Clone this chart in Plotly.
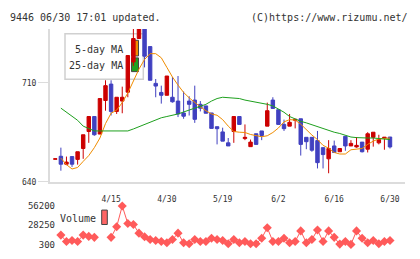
import plotly.graph_objects as go

W, H = 420, 259

opens  = [656.0,658.1,652.5,657.9,655.9,663.6,675.6,686.2,673.8,697.5,
          709.1,689.8,697.1,703.4,724.7,741.3,751.0,735.6,709.6,703.2,
          701.2,699.8,697.1,688.7,697.1,697.8,694.8,693.7,688.7,679.0,
          675.3,667.6,675.6,686.2,670.6,664.9,674.0,676.0,679.4,697.8,
          691.0,680.6,679.4,683.5,684.6,671.5,671.5,669.2,664.2,656.3,
          665.4,661.3,672.2,665.4,664.7,668.1,663.1,671.5,667.6,671.0,
          671.7]
highs  = [656.3,664.2,657.9,657.9,661.3,673.3,686.2,686.2,698.9,711.8,
          711.8,699.8,707.3,729.3,748.1,752.0,753.0,735.6,712.7,708.0,
          714.8,714.1,714.8,703.9,700.5,708.0,697.1,693.7,688.7,679.0,
          678.3,671.0,686.2,686.2,680.6,669.9,674.0,676.0,696.0,699.8,
          691.0,684.0,688.0,684.2,684.6,671.5,671.5,676.0,664.2,669.5,
          669.2,663.6,672.2,669.5,671.7,668.1,675.1,675.1,673.3,671.5,
          671.7]
lows   = [656.0,647.9,651.8,650.6,652.2,656.3,667.6,672.6,673.8,690.3,
          686.9,688.0,688.5,699.8,722.0,741.3,720.9,711.8,699.8,695.3,
          701.2,696.0,685.8,684.6,686.9,681.7,689.8,688.5,677.8,666.5,
          668.8,665.4,667.6,680.6,669.5,664.9,666.5,669.5,679.4,691.9,
          680.6,676.0,679.4,677.8,658.6,663.1,661.3,649.5,649.5,646.1,
          660.8,661.3,662.0,665.4,664.2,660.8,660.8,664.9,666.5,662.7,
          663.6]
closes = [656.3,652.5,654.0,652.5,661.3,673.3,686.2,673.3,698.9,708.0,
          689.8,699.8,699.8,729.3,741.3,751.0,728.8,711.8,707.7,701.2,
          714.8,696.6,688.0,686.4,694.8,684.2,692.1,688.5,677.8,677.6,
          668.8,665.4,686.2,680.6,671.5,668.1,666.5,672.8,690.3,691.9,
          680.6,677.6,682.1,684.2,666.5,668.4,662.4,653.6,659.3,663.6,
          660.8,663.6,665.4,667.2,665.8,661.3,674.0,675.1,669.9,671.5,
          664.7]
ma5  = [None,656.8,652.2,649.1,650.2,654.5,658.6,664.2,671.0,681.2,
        688.5,690.7,696.0,702.8,711.1,719.7,726.5,730.6,730.6,727.7,
        720.9,714.1,708.4,703.2,699.4,696.0,693.0,690.3,688.0,687.1,
        684.0,679.4,675.6,675.1,674.9,673.5,672.8,671.9,672.6,674.9,
        678.1,682.4,684.0,683.7,680.8,676.7,673.1,669.9,665.8,663.8,
        660.8,659.7,659.7,662.7,663.3,663.6,666.5,668.8,670.4,670.6,
        671.0]
ma25 = [None,692.1,689.2,685.8,683.5,679.4,677.8,676.0,676.0,676.0,
        675.6,675.6,675.8,676.0,677.4,679.0,680.8,682.4,683.7,685.3,
        686.2,686.9,688.0,689.4,690.7,691.9,693.2,694.8,697.1,698.9,
        699.8,699.4,698.9,698.9,697.8,697.1,696.6,695.7,694.8,693.7,
        691.4,689.2,686.2,684.4,682.8,681.7,680.3,679.0,677.4,676.2,
        675.1,674.2,672.8,671.7,671.3,671.0,671.0,671.0,670.8,670.4,
        669.9]
volume = [None,13800,4500,5900,4500,13800,11900,10500,None,None,
          10500,25900,56200,30600,29200,16600,11500,7300,5900,4500,
          2600,7300,16600,2600,1200,7300,4500,4500,9200,7300,
          5900,1200,7300,2600,4500,1200,1200,9200,24500,4500,
          4500,9200,2600,4500,19900,2600,7300,21300,4500,19900,
          10500,700,4500,300,19900,9200,2600,5900,1200,4500,
          5900]
date_pos    = [10, 20, 30, 40, 50, 60]
date_labels = ["4/15", "4/30", "5/19", "6/2", "6/16", "6/30"]
price_ticks = [640, 710]
vol_ticks   = [300, 28250, 56200]
vol_labels  = ["300", "28250", "56200"]

days = list(range(len(closes)))

RED, BLUE = "#cc0000", "#4040c0"
ORANGE, GREEN = "#f08c00", "#1ea01e"
VOLC = "#ff5a5a"
AX = "#dcdcdc"
MONO = "DejaVu Sans Mono"

def px(x): return x / W
def py(y): return 1 - y / H

x0, x1 = -0.95, 62.69
fig = go.Figure()
fig.add_trace(go.Candlestick(
    x=days, open=opens, high=highs, low=lows, close=closes,
    increasing=dict(line=dict(color=RED, width=1), fillcolor=RED),
    decreasing=dict(line=dict(color=BLUE, width=1), fillcolor=BLUE),
    whiskerwidth=0, showlegend=False, hoverinfo="skip"))
fig.add_trace(go.Scatter(x=days, y=ma5, mode="lines",
                         line=dict(color=ORANGE, width=1), showlegend=False))
fig.add_trace(go.Scatter(x=days, y=ma25, mode="lines",
                         line=dict(color=GREEN, width=1), showlegend=False))
fig.add_trace(go.Scatter(x=days, y=volume, mode="lines+markers",
                         xaxis="x4", yaxis="y4", cliponaxis=False,
                         line=dict(color=VOLC, width=1),
                         marker=dict(symbol="diamond", size=7, color=VOLC),
                         showlegend=False))

vol_left = 56
vx0 = x0 + (vol_left - 50) / (355 / (x1 - x0))

fig.update_layout(
    width=W, height=H, margin=dict(l=0, r=0, t=0, b=0),
    paper_bgcolor="white", plot_bgcolor="white",
    font=dict(family=MONO, size=8, color="#333"),
    boxgap=0.12,
    xaxis=dict(domain=[px(50), px(405)], range=[x0, x1], anchor="y",
               rangeslider=dict(visible=False), showgrid=False, zeroline=False,
               showline=True, linecolor=AX, linewidth=2,
               tickmode="array", tickvals=date_pos, ticktext=date_labels,
               ticks="outside", ticklen=9, tickcolor="rgba(0,0,0,0)",
               tickfont=dict(family=MONO, size=8, color="#333")),
    xaxis2=dict(overlaying="x", domain=[px(50), px(405)], range=[0, 11],
                anchor="y", tickmode="linear", tick0=0, dtick=1,
                ticks="outside", ticklen=4, tickwidth=2, tickcolor=AX,
                showticklabels=False, showgrid=False, zeroline=False, showline=False),
    xaxis3=dict(overlaying="x", domain=[px(50), px(405)], range=[0, 11],
                anchor="y", tickmode="linear", tick0=0, dtick=1,
                ticks="inside", ticklen=3, tickwidth=2, tickcolor=AX,
                showticklabels=False, showgrid=False, zeroline=False, showline=False),
    yaxis=dict(domain=[py(184), py(25)], range=[640, 748], showgrid=False,
               zeroline=False, showline=True, linecolor=AX, linewidth=2,
               tickmode="array", tickvals=price_ticks, ticks="outside",
               ticklen=10, tickcolor=AX, tickwidth=1,
               tickfont=dict(family=MONO, size=8, color="#333")),
    xaxis4=dict(domain=[px(vol_left), px(405)], range=[vx0, x1], anchor="y4",
                visible=False),
    yaxis4=dict(domain=[py(249), py(209)], range=[300, 56200], anchor="x4",
                showgrid=False, zeroline=False, showline=False,
                tickmode="array", tickvals=vol_ticks, ticktext=vol_labels, ticks="",
                tickfont=dict(family=MONO, size=9, color="#333")),
)

shapes = [
    dict(type="rect", xref="paper", yref="paper", x0=px(65), x1=px(143.3),
         y0=py(77.3), y1=py(30), line=dict(color="#d0d0d0", width=1.5),
         fillcolor="white", layer="below"),
    dict(type="rect", xref="paper", yref="paper", x0=px(131.5), x1=px(138.5),
         y0=py(53), y1=py(36.7), line=dict(color="#444", width=1),
         fillcolor=ORANGE, layer="below"),
    dict(type="rect", xref="paper", yref="paper", x0=px(131.5), x1=px(138.5),
         y0=py(69.3), y1=py(55), line=dict(color="#444", width=1),
         fillcolor=GREEN, layer="below"),
    dict(type="rect", xref="paper", yref="paper", x0=px(101.7), x1=px(107.3),
         y0=py(228.3), y1=py(213.3), line=dict(color="#444", width=1),
         fillcolor="#ff6666"),
]
fig.update_layout(shapes=shapes)

ann = [
    dict(text="9446 06/30 17:01 updated.", x=px(8), y=py(12.5), xanchor="left"),
    dict(text="(C)https://www.rizumu.net/", x=px(410), y=py(12.5), xanchor="right"),
    dict(text="5-day MA", x=px(124.5), y=py(46.7), xanchor="right"),
    dict(text="25-day MA", x=px(124.5), y=py(63.3), xanchor="right"),
    dict(text="Volume", x=px(58), y=py(222), xanchor="left"),
]
for a in ann:
    fig.add_annotation(xref="paper", yref="paper", showarrow=False,
                       yanchor="middle", font=dict(family=MONO, size=10, color="#333"),
                       **a)

fig.write_html("out.html")
